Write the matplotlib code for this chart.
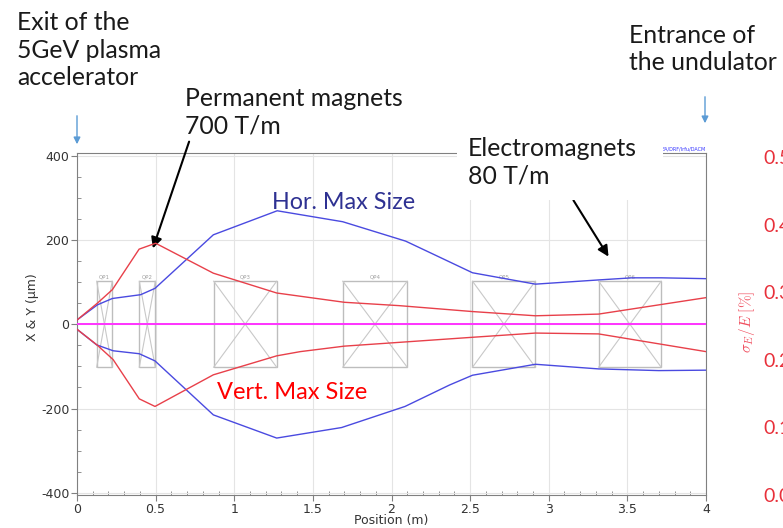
import matplotlib
matplotlib.use('Agg')
import matplotlib.pyplot as plt
from matplotlib.patches import Rectangle
from matplotlib.ticker import MultipleLocator

plt.rcParams['mathtext.fontset'] = 'cm'
plt.rcParams['axes.unicode_minus'] = False

# beam envelopes along the line (position in m, size in um)
hor_up_x = [0, 0.13, 0.225, 0.405, 0.496, 0.867, 1.273, 1.69, 2.09, 2.3, 2.515, 2.915, 3.317, 3.53, 3.715, 4.0]
hor_up_y = [10, 46, 61, 70, 85, 212, 269, 243, 197, 160, 122, 95, 105, 110, 110, 108]
hor_lo_x = [0, 0.125, 0.23, 0.396, 0.496, 0.867, 1.27, 1.683, 2.086, 2.37, 2.515, 2.915, 3.317, 3.7, 4.0]
hor_lo_y = [-12, -49, -63, -70, -87, -215, -270, -245, -195, -144, -121, -95, -106, -110, -109]
ver_up_x = [0, 0.13, 0.225, 0.395, 0.5, 0.867, 1.27, 1.70, 2.05, 2.515, 2.915, 3.317, 4.0]
ver_up_y = [10, 50, 82, 178, 192, 121, 74, 52, 44, 30, 20, 24, 63]
ver_lo_x = [0, 0.13, 0.23, 0.396, 0.496, 0.867, 1.27, 1.42, 1.70, 2.05, 2.515, 2.915, 3.317, 4.0]
ver_lo_y = [-12, -50, -84, -177, -195, -120, -75, -65, -52, -43, -31, -21, -23, -65]

# quadrupoles: name, start, end (m), half aperture drawn (um)
quad_names = ['QP1', 'QP2', 'QP3', 'QP4', 'QP5', 'QP6']
quad_start = [0.125, 0.396, 0.869, 1.69, 2.515, 3.317]
quad_end = [0.224, 0.498, 1.27, 2.10, 2.915, 3.715]
quad_half = 102

sigma_ticks = [0.0, 0.1, 0.2, 0.3, 0.4, 0.5]

W, H = 783, 528
def px(x, y):
    return (x / W, 1 - y / H)

fig = plt.figure(figsize=(7.83, 5.28), dpi=100)
ax = fig.add_axes([77 / W, 1 - 495 / H, 629 / W, 342 / H])

for s, e, name in zip(quad_start, quad_end, quad_names):
    ax.add_patch(Rectangle((s, -quad_half), e - s, 2 * quad_half, fill=False,
                           edgecolor='#bdbdbd', lw=1.0, zorder=2))
    ax.plot([s, e], [-quad_half, quad_half], color='#c8c8c8', lw=0.8, zorder=2)
    ax.plot([s, e], [quad_half, -quad_half], color='#c8c8c8', lw=0.8, zorder=2)
    ax.text((s + e) / 2, quad_half + 4, name, ha='center', va='bottom',
            fontsize=4, color='#a0a0a0')

ax.axhline(0, color='#ff33ff', lw=1.4, zorder=3)
ax.plot(hor_up_x, hor_up_y, color='#4a4ae0', lw=1.0, zorder=4)
ax.plot(hor_lo_x, hor_lo_y, color='#4a4ae0', lw=1.0, zorder=4)
ax.plot(ver_up_x, ver_up_y, color='#e8404a', lw=1.0, zorder=4)
ax.plot(ver_lo_x, ver_lo_y, color='#e8404a', lw=1.0, zorder=4)

ax.set_xlim(0, 4)
ax.set_ylim(-405, 406)
ax.xaxis.set_minor_locator(MultipleLocator(0.1))
ax.yaxis.set_major_locator(MultipleLocator(200))
ax.yaxis.set_minor_locator(MultipleLocator(50))
ax.set_xticks([0, 0.5, 1, 1.5, 2, 2.5, 3, 3.5, 4])
ax.set_xticklabels(['0', '0.5', '1', '1.5', '2', '2.5', '3', '3.5', '4'])
ax.grid(True, which='major', color='#e4e4e4', lw=0.8)
ax.tick_params(which='major', direction='out', length=4, color='#808080',
               labelsize=9, labelcolor='#333333', pad=1.5)
ax.tick_params(which='minor', direction='in', length=3, color='#808080')
for sp in ax.spines.values():
    sp.set_color('#808080')
ax.set_xlabel('Position (m)', fontsize=9, color='#333333')
ax.xaxis.set_label_coords(0.5, -0.056)
ax.set_ylabel('X & Y (\u03bcm)', fontsize=9, color='#333333')
ax.yaxis.set_label_coords(-0.060, 0.55)
ax.text(1.0, 1.005, 'EA/DRF/Irfu/DACM', transform=ax.transAxes, ha='right',
        va='bottom', fontsize=3.5, color='#3333ff')

# energy spread axis on the right
ax2 = ax.twinx()
ax2.set_ylim(0.0, 0.506)
ax2.set_yticks(sigma_ticks)
ax2.set_yticklabels([f'{v:.1f}' for v in sigma_ticks])
ax2.tick_params(length=0, pad=41, labelsize=14, labelcolor='#e8303a')
for lbl in ax2.get_yticklabels():
    lbl.set_family('Lato')
for sp in ax2.spines.values():
    sp.set_visible(False)
fig.text(*px(747, 322), r'$\sigma_E/E\ [\%]$', rotation=90, ha='center', va='center',
         fontsize=11, color='#f05060')

ax.text(0.31, 0.855, 'Hor. Max Size', transform=ax.transAxes, ha='left', va='center',
        fontsize=16.8, family='Lato', color='#2e3192')
ax.text(0.223, 0.30, 'Vert. Max Size', transform=ax.transAxes, ha='left', va='center',
        fontsize=17, family='Lato', color='#ff0000')

# annotations around the plot
fig.add_artist(Rectangle(px(457, 200), 206 / W, 75 / H, transform=fig.transFigure,
                         facecolor='white', edgecolor='none', zorder=2.5))
note = dict(fontsize=17.8, family='Lato', color='#1a1a1a', ha='left', va='center',
            linespacing=1.25, zorder=3)
fig.text(*px(17, 50), 'Exit of the\n5GeV plasma\naccelerator', **note)
fig.text(*px(629, 49), 'Entrance of\nthe undulator', **note)
fig.text(*px(185, 112), 'Permanent magnets\n700 T/m', **note)
fig.text(*px(468, 162), 'Electromagnets\n80 T/m', **note)

black = dict(arrowstyle='-|>', color='black', lw=1.5, mutation_scale=16)
ax.annotate('', xy=px(152, 251), xytext=px(190, 139), xycoords='figure fraction',
            textcoords='figure fraction', arrowprops=black, annotation_clip=False)
ax.annotate('', xy=px(610, 259), xytext=px(572, 198), xycoords='figure fraction',
            textcoords='figure fraction', arrowprops=black, annotation_clip=False)
blue = dict(arrowstyle='-|>', color='#5b9bd5', lw=1.0, mutation_scale=10)
ax.annotate('', xy=px(77, 147), xytext=px(77, 113), xycoords='figure fraction',
            textcoords='figure fraction', arrowprops=blue, annotation_clip=False)
ax.annotate('', xy=px(705, 126), xytext=px(705, 94), xycoords='figure fraction',
            textcoords='figure fraction', arrowprops=blue, annotation_clip=False)

fig.savefig('out.png', dpi=100)
